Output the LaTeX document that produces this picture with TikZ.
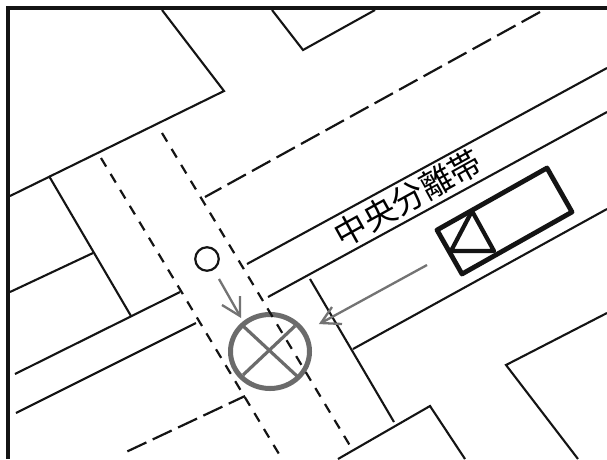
\documentclass[tikz,border=0pt]{standalone}
\usepackage{fontspec}
\usetikzlibrary{shapes.geometric}
\newfontfamily\cjk{Noto Sans CJK JP}
\tikzset{
  frame/.style={line width=4.6pt,draw=black!92},
  road/.style={line width=2.1pt,draw=black!92},
  lane/.style={line width=2.2pt,draw=black!92,dash pattern=on 21pt off 7pt},
  cross/.style={line width=2.2pt,draw=black!92,dash pattern=on 10pt off 8.6pt},
  truck/.style={line width=4.8pt,draw=black!92,line join=round},
  gmark/.style={draw=black!58,line width=5pt},
  gline/.style={draw=black!58,line width=3.2pt},
  garrow/.style={draw=black!55,line width=2.3pt}
}
\begin{document}
\begin{tikzpicture}[x=1pt,y=-1pt]
\useasboundingbox (0,0) rectangle (607,459);
\fill[white] (0,0) rectangle (607,459);
% frame
\coordinate (tl) at (8,8);
\coordinate (tr) at (607,8);
\coordinate (bl) at (8,459);
\draw[frame] (tr) -- (tl) -- (bl);
% upper-left block
\coordinate (a1) at (162,10);
\coordinate (a2) at (224,91);
\coordinate (a3) at (10,196);
\draw[road] (a1) -- (a2) -- (a3);
% top block
\coordinate (b1) at (272,10);
\coordinate (b2) at (303,50);
\coordinate (b3) at (375,10);
\draw[road] (b1) -- (b2) -- (b3);
% left lots
\coordinate (c1) at (49,176);
\coordinate (c2) at (131,316);
\coordinate (c3) at (10,292);
\coordinate (c4) at (93,253);
\draw[road] (c1) -- (c2);
\draw[road] (c3) -- (c4);
\coordinate (d1) at (15,374);
\coordinate (d2) at (180,292);
\coordinate (e1) at (16,413);
\coordinate (e2) at (196,323);
\draw[road] (d1) -- (d2);
\draw[road] (e1) -- (e2);
% lane dashed
\coordinate (h1) at (205,197);
\coordinate (h2) at (540,12);
\draw[lane] (h2) -- (h1);
\coordinate (i1) at (245,396);
\coordinate (i2) at (126,452);
\draw[lane,dash phase=3pt] (i1) -- (i2);
% median
\coordinate (j1) at (247,264);
\coordinate (j2) at (607,68);
\coordinate (k1) at (268,297);
\coordinate (k2) at (607,112);
\draw[road] (j1) -- (j2);
\draw[road] (k1) -- (k2);
% right road edge
\coordinate (l1) at (310,279);
\coordinate (l2) at (394,422);
\coordinate (m1) at (353,349);
\coordinate (m2) at (607,209);
\draw[road] (l1) -- (l2);
\draw[road] (m1) -- (m2);
% lower blocks
\coordinate (n1) at (338,459);
\coordinate (n2) at (430,406);
\coordinate (n3) at (465,459);
\draw[road] (n1) -- (n2) -- (n3);
\coordinate (o1) at (607,313);
\coordinate (o2) at (506,365);
\coordinate (o3) at (578,459);
\draw[road] (o1) -- (o2) -- (o3);
% truck
\coordinate (t1) at (437,230);
\coordinate (t2) at (547,168);
\coordinate (t3) at (572,212);
\coordinate (t4) at (462,274);
\coordinate (t5) at (472,211);
\coordinate (t6) at (494,251);
\coordinate (t7) at (451,251);
\draw[truck] (t1) -- (t2) -- (t3) -- (t4) -- cycle;
\draw[truck,line width=4.2pt] (t5) -- (t6) -- (t7) -- cycle;
% person and arrows
\node[draw=black!92,line width=2.2pt,circle,minimum size=23.5pt,inner sep=0pt] (p) at (207,259) {};
\node[gmark,ellipse,minimum width=79pt,minimum height=74pt,inner sep=0pt] (x) at (270,351.5) {};
\coordinate (x1) at (242,325);
\coordinate (x2) at (298,377);
\coordinate (x3) at (295,326);
\coordinate (x4) at (243,375);
\draw[gline] (x1) -- (x2);
\draw[gline] (x3) -- (x4);
\coordinate (q1) at (219,279);
\coordinate (q2) at (240,316);
\coordinate (q3) at (222,305);
\coordinate (q4) at (240,296);
\draw[garrow] (q1) -- (q2);
\draw[garrow] (q3) -- (q2) -- (q4);
\coordinate (r1) at (427,265);
\coordinate (r2) at (321,323);
\coordinate (r3) at (332,307);
\coordinate (r4) at (342,324);
\draw[garrow] (r1) -- (r2);
\draw[garrow] (r3) -- (r2) -- (r4);
% crosswalk, over the grey mark
\coordinate (f1) at (101,158);
\coordinate (f2) at (282,459);
\coordinate (g1) at (162,133);
\coordinate (g2) at (352,449);
\draw[cross] (f1) -- (f2);
\draw[cross] (g1) -- (g2);
% label
\node[rotate=29,inner sep=0pt,font=\cjk\fontsize{32.5}{33}\selectfont] (lab) at (408,198) {中央分離帯};
\end{tikzpicture}
\end{document}
